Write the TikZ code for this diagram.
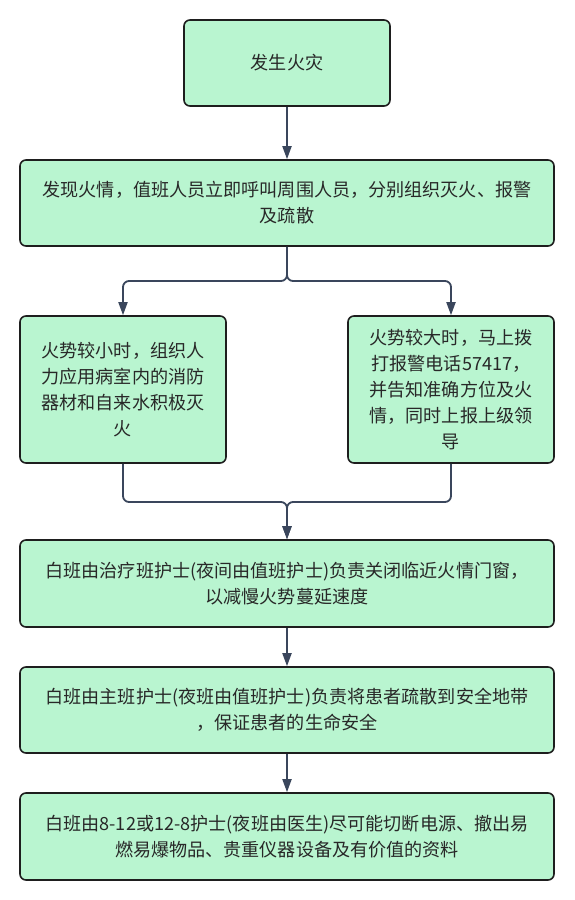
\documentclass[tikz,border=0pt]{standalone}
\usepackage{fontspec}
\setmainfont{Noto Sans CJK SC}
\usetikzlibrary{arrows.meta}
\definecolor{boxfill}{RGB}{185,245,208}
\definecolor{boxline}{RGB}{30,30,30}
\definecolor{conncol}{RGB}{58,70,92}
\definecolor{txtcol}{RGB}{40,40,40}
\tikzset{
  flowbox/.style={draw=boxline, fill=boxfill, line width=1.6pt, rounded corners=6pt,
    align=center, text=txtcol, inner sep=0pt,
    font=\fontsize{18.1}{26}\selectfont},
  conn/.style={draw=conncol, line width=1.8pt, rounded corners=6pt,
    -{Triangle[length=13pt,width=9pt]}},
}
\begin{document}
\begin{tikzpicture}[x=1pt,y=-1pt]
\useasboundingbox[fill=white] (0,0) rectangle (575,900);
\node[flowbox, minimum width=206pt, minimum height=86pt] (b1) at (287,63) {发生火灾};
\node[flowbox, minimum width=534pt, minimum height=86pt] (b2) at (287,203)
  {发现火情，值班人员立即呼叫周围人员，分别组织灭火、报警\\及疏散};
\node[flowbox, minimum width=206pt, minimum height=147pt] (b3) at (123,389.5)
  {火势较小时，组织人\\力应用病室内的消防\\器材和自来水积极灭\\火};
\node[flowbox, minimum width=206pt, minimum height=147pt] (b4) at (451,389.5)
  {火势较大时，马上拨\\打报警电话57417，\\并告知准确方位及火\\情，同时上报上级领\\导};
\node[flowbox, minimum width=534pt, minimum height=87pt] (b5) at (287,583.5)
  {白班由治疗班护士(夜间由值班护士)负责关闭临近火情门窗，\\以减慢火势蔓延速度};
\node[flowbox, minimum width=534pt, minimum height=86pt] (b6) at (287,710)
  {白班由主班护士(夜班由值班护士)负责将患者疏散到安全地带\\，保证患者的生命安全};
\node[flowbox, minimum width=534pt, minimum height=87pt] (b7) at (287,836.5)
  {白班由8-12或12-8护士(夜班由医生)尽可能切断电源、撤出易\\燃易爆物品、贵重仪器设备及有价值的资料};
\coordinate (j1) at (287,281);
\coordinate (j2) at (287,502);
\draw[conn] (b1) -- (b2);
\draw[conn] (b2.south) -- (j1) -| (b3.north);
\draw[conn] (b2.south) -- (j1) -| (b4.north);
\draw[conn] (b3.south) |- (j2) -- (b5.north);
\draw[conn] (b4.south) |- (j2) -- (b5.north);
\draw[conn] (b5) -- (b6);
\draw[conn] (b6) -- (b7);
\end{tikzpicture}
\end{document}
